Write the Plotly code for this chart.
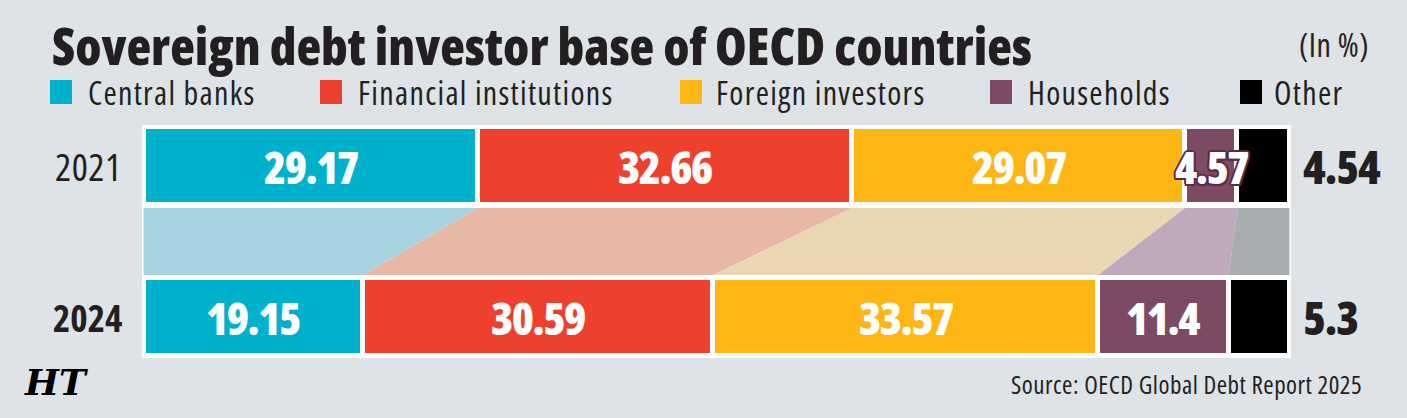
import plotly.graph_objects as go
import numpy as np

# ---------------- data ----------------
years = ["2021", "2024"]
categories = ["Central banks", "Financial institutions", "Foreign investors", "Households", "Other"]
values_2021 = [29.17, 32.66, 29.07, 4.57, 4.54]
values_2024 = [19.15, 30.59, 33.57, 11.4, 5.3]
labels_2021 = ["29.17", "32.66", "29.07", "4.57", "4.54"]
labels_2024 = ["19.15", "30.59", "33.57", "11.4", "5.3"]

# ---------------- style ----------------
colors = ["#00b1cc", "#ee412d", "#fdb614", "#7d4a66", "#000000"]
light_colors = ["#a7d4e0", "#e7b8a5", "#e9d8b3", "#bfa9bd", "#a8adb0"]
BG = "#dde3e7"
INK = "#231f20"
FAM = "'Open Sans', Roboto, sans-serif"

W, H = 1407, 418
L, R, T, B = 142, 1291, 125, 358   # plot area in pixels
Y21, Y24 = 1.0, 0.0                 # numeric row positions
BAR_W = 0.523
CONN_TOP, CONN_BOT = 0.722, 0.278


def px(x):
    return (x - L) / (R - L)


def py(y):
    return (B - y) / (B - T)


def cond(s, stretch="75%", spacing=None):
    st = f"font-stretch:{stretch}"
    if spacing is not None:
        st += f";letter-spacing:{spacing}"
    return f'<span style="{st}">{s}</span>'


v21 = np.array(values_2021)
v24 = np.array(values_2024)
cum21 = np.concatenate([[0], np.cumsum(v21)])
cum24 = np.concatenate([[0], np.cumsum(v24)])
total = max(cum21[-1], cum24[-1])

fig = go.Figure()

# connector polygons
for i, cat in enumerate(categories):
    xs = [cum21[i], cum21[i + 1], cum24[i + 1], cum24[i], cum21[i]]
    ys = [CONN_TOP, CONN_TOP, CONN_BOT, CONN_BOT, CONN_TOP]
    fig.add_trace(go.Scatter(x=xs, y=ys, fill="toself", mode="lines",
                             line=dict(width=0), fillcolor=light_colors[i],
                             hoverinfo="skip", showlegend=False))

# stacked bars
for i, cat in enumerate(categories):
    fig.add_trace(go.Bar(
        y=[Y21, Y24], x=[values_2021[i], values_2024[i]], orientation="h",
        name=cat, width=BAR_W, marker=dict(color=colors[i], line=dict(color="white", width=5)),
        showlegend=False, hoverinfo="x+name"))

ann = []
# in-bar labels
for row_y, vals, cum, labs in [(Y21, v21, cum21, labels_2021), (Y24, v24, cum24, labels_2024)]:
    for i in range(len(categories) - 1):
        f = dict(family=FAM, size=45, color="white", weight=800)
        if labs[i] == "4.57":
            s = "#5a2c44"
            f["shadow"] = (f"1.5px 1.5px 0 {s}, -1.5px -1.5px 0 {s}, 1.5px -1.5px 0 {s}, -1.5px 1.5px 0 {s}, "
                           f"0 2px 0 {s}, 2px 0 0 {s}, 0 -2px 0 {s}, -2px 0 0 {s}")
        ann.append(dict(x=cum[i] + vals[i] / 2, y=row_y, xref="x", yref="y",
                        text=cond(labs[i], spacing="-1.5px"),
                        showarrow=False, xanchor="center", yanchor="middle", font=f))
    # "Other" label outside right
    ann.append(dict(x=total, y=row_y, xref="x", yref="y", text=cond(labs[-1], spacing="-1px"),
                    showarrow=False, xanchor="left", yanchor="middle", xshift=11,
                    font=dict(family=FAM, size=46, color=INK, weight=800)))

# row labels
ann.append(dict(x=px(124), y=Y21, xref="paper", yref="y", text=cond(years[0], spacing="0.5px"),
                showarrow=False, xanchor="right", yanchor="middle", font=dict(family=FAM, size=38, color=INK)))
ann.append(dict(x=px(124), y=Y24, xref="paper", yref="y", text=cond(years[1]), showarrow=False,
                xanchor="right", yanchor="middle", font=dict(family=FAM, size=37, color=INK, weight=700)))

# title
ann.append(dict(x=px(50), y=py(45), xref="paper", yref="paper",
                text=cond("Sovereign debt investor base of OECD countries"),
                showarrow=False, xanchor="left", yanchor="middle",
                font=dict(family=FAM, size=51, color=INK, weight=800)))
ann.append(dict(x=px(1371), y=py(45), xref="paper", yref="paper", text=cond("(In %)", spacing="0.5px"),
                showarrow=False, xanchor="right", yanchor="middle", font=dict(family=FAM, size=32, color=INK)))

# legend
sq_x = [50, 320, 680, 990, 1240]
tx_x = [86, 356, 714, 1026, 1272]
shapes = []
for i, cat in enumerate(categories):
    shapes.append(dict(type="rect", xref="paper", yref="paper", x0=px(sq_x[i]), x1=px(sq_x[i] + 22),
                       y0=py(104), y1=py(80), fillcolor=colors[i], line=dict(width=0)))
    ann.append(dict(x=px(tx_x[i]), y=py(92), xref="paper", yref="paper", text=cond(cat, spacing="1.3px"),
                    showarrow=False, xanchor="left", yanchor="middle",
                    font=dict(family=FAM, size=32, color=INK)))

# logo and source
ann.append(dict(x=px(22), y=py(382), xref="paper", yref="paper", text="<i>HT</i>", showarrow=False,
                xanchor="left", yanchor="middle",
                font=dict(family="DejaVu Serif, serif", size=36, color="#000", weight="bold")))
ann.append(dict(x=px(1364), y=py(384), xref="paper", yref="paper",
                text=cond("Source: OECD Global Debt Report 2025", spacing="0.5px"),
                showarrow=False, xanchor="right", yanchor="middle", font=dict(family=FAM, size=25, color=INK)))

x0 = -1.5 / 11.459
x1 = total + 1.5 / 11.459
fig.update_layout(
    width=W, height=H, barmode="stack", bargap=0,
    margin=dict(l=L, r=W - R, t=T, b=H - B, pad=0),
    paper_bgcolor=BG, plot_bgcolor="white",
    xaxis=dict(range=[x0, x1], visible=False, fixedrange=True),
    yaxis=dict(range=[-0.2715, 1.2715], visible=False, fixedrange=True),
    annotations=ann, shapes=shapes, showlegend=False,
)

fig.write_html("out.html")
